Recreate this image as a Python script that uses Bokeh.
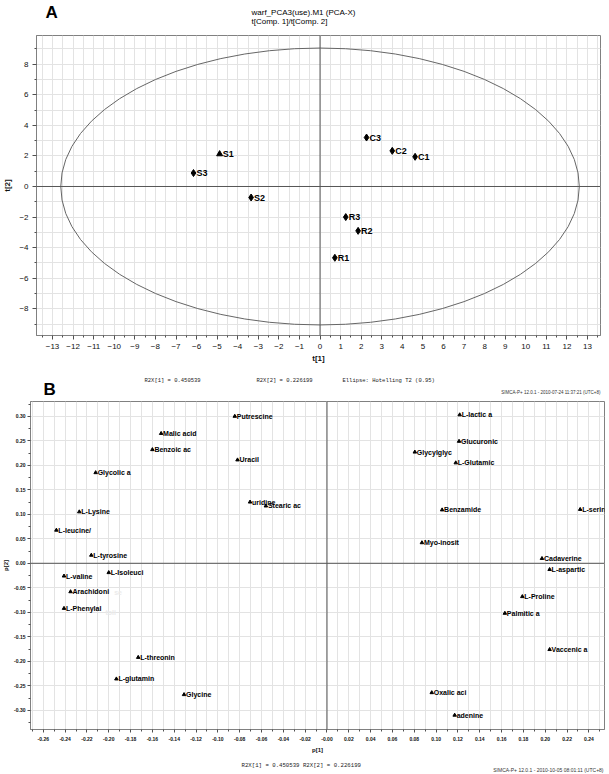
from bokeh.plotting import figure
from bokeh.models import Range1d, FixedTicker, Span, CustomJSTickFormatter
from bokeh.layouts import column, row
from bokeh.embed import file_html
from bokeh.resources import INLINE
from bokeh.core.properties import value

# ---------------- data: panel A (scores) ----------------
sample_names = ["S1", "S2", "S3", "C1", "C2", "C3", "R1", "R2", "R3"]
t1_scores = [-4.88, -3.35, -6.15, 4.62, 3.51, 2.26, 0.72, 1.85, 1.25]
t2_scores = [2.12, -0.72, 0.88, 1.94, 2.33, 3.20, -4.66, -2.90, -2.00]
ellipse_a = 12.6   # Hotelling T2 (0.95) semi-axis on t[1]
ellipse_b = 9.05   # semi-axis on t[2]
a_x_ticks = list(range(-13, 14))
a_y_ticks = list(range(-8, 9, 2))

# ---------------- data: panel B (loadings) ----------------
metabolites = ["Putrescine", "L-lactic a", "Malic acid", "Benzoic ac", "Uracil",
               "Glycolic a", "Glucuronic", "Glycylglyc", "L-Glutamic", "uridine",
               "Stearic ac", "L-Lysine", "Benzamide", "L-serine", "L-leucine/",
               "Myo-inosit", "L-tyrosine", "Cadaverine", "L-Isoleuci", "L-valine",
               "L-aspartic", "Arachidoni", "L-Proline", "L-Phenylal", "Palmitic a",
               "Vaccenic a", "L-threonin", "L-glutamin", "Glycine", "Oxalic aci", "adenine"]
p1_load = [-0.0845, 0.1216, -0.152, -0.160, -0.082,
           -0.212, 0.121, 0.0805, 0.118, -0.0705,
           -0.056, -0.227, 0.1055, 0.232, -0.248,
           0.087, -0.216, 0.197, -0.200, -0.241,
           0.204, -0.235, 0.179, -0.241, 0.163,
           0.204, -0.173, -0.193, -0.131, 0.096, 0.117]
p2_load = [0.300, 0.303, 0.265, 0.232, 0.211,
           0.185, 0.249, 0.227, 0.205, 0.125,
           0.117, 0.105, 0.109, 0.110, 0.0676,
           0.042, 0.0165, 0.0098, -0.019, -0.026,
           -0.0127, -0.058, -0.068, -0.092, -0.102,
           -0.176, -0.192, -0.236, -0.268, -0.264, -0.310]
# faint (overlapped) labels
faint_labels = ["se", "toli"]
faint_p1 = [-0.195, -0.203]
faint_p2 = [-0.060, -0.100]
b_x_ticks = [round(-0.26 + 0.02 * i, 2) for i in range(26)]
b_y_ticks = [round(-0.30 + 0.05 * i, 2) for i in range(13)]

FONT = "Liberation Sans"
MONO = "Liberation Mono"
W = 609


def strip(h):
    s = figure(width=W, height=h, output_backend="svg", toolbar_location=None,
               x_range=Range1d(0, W), y_range=Range1d(h, 0),
               x_axis_type=None, y_axis_type=None,
               min_border=0, min_border_left=0, min_border_right=0,
               min_border_top=0, min_border_bottom=0)
    s.outline_line_color = None
    s.background_fill_color = "white"
    s.border_fill_color = "white"
    return s


def put(s, x, y, text, size, font=FONT, style="normal", align="left",
        baseline="middle", color="black"):
    s.text(x=[x], y=[y], text=[text], text_font=value(font), text_font_size=size,
           text_font_style=style, text_align=align, text_baseline=baseline,
           text_color=color)


def style_axes(p, tick_size, label_size, tick_style, tick_out):
    for ax in (p.xaxis, p.yaxis):
        ax.axis_line_color = "#808080"
        ax.major_tick_line_color = "#505050"
        ax.minor_tick_line_color = "#505050"
        ax.major_tick_in = 0
        ax.major_tick_out = tick_out
        ax.minor_tick_in = 0
        ax.minor_tick_out = 2
        ax.major_label_text_font = FONT
        ax.major_label_text_font_size = tick_size
        ax.major_label_text_font_style = tick_style
        ax.major_label_text_color = "#111111"
        ax.axis_label_text_font = FONT
        ax.axis_label_text_font_size = label_size
        ax.axis_label_text_font_style = "bold"
        ax.axis_label_text_color = "#111111"


# ======================= header (page y 0-35) =======================
hdr = strip(35)
put(hdr, 45, 2, "A", "17px", style="bold", baseline="top")
put(hdr, 251, 12, "warf_PCA3(use).M1 (PCA-X)", "8px")
put(hdr, 251, 21, "t[Comp. 1]/t[Comp. 2]", "8px")

# ======================= Panel A (page y 35-366) =======================
pA = figure(width=W, height=331, output_backend="svg", toolbar_location=None,
            x_range=Range1d(-13.78, 13.63), y_range=Range1d(-9.74, 9.87),
            min_border_left=36, min_border_right=9, min_border_top=0, min_border_bottom=31)
pA.outline_line_color = "#808080"
pA.background_fill_color = "white"
pA.border_fill_color = "white"

xt = FixedTicker(ticks=a_x_ticks, minor_ticks=[v + 0.5 for v in range(-14, 14)])
yt = FixedTicker(ticks=a_y_ticks, minor_ticks=[v for v in range(-9, 10) if v % 2])
pA.xaxis.ticker = xt
pA.yaxis.ticker = yt
pA.xgrid.ticker = xt
pA.ygrid.ticker = yt
for g in (pA.xgrid, pA.ygrid):
    g.grid_line_color = "#e3e3e3"
    g.minor_grid_line_color = "#e3e3e3"
style_axes(pA, "8px", "8px", "normal", 4)
pA.xaxis.axis_label = "t[1]"
pA.yaxis.axis_label = "t[2]"
pA.xaxis.major_label_standoff = 4
pA.xaxis.axis_label_standoff = 2
pA.yaxis.major_label_standoff = 4
pA.yaxis.axis_label_standoff = 4

pA.add_layout(Span(location=0, dimension="height", line_color="#555555", line_width=1))
pA.add_layout(Span(location=0, dimension="width", line_color="#555555", line_width=1))
pA.ellipse(x=0, y=0, width=2 * ellipse_a, height=2 * ellipse_b,
           fill_color=None, line_color="#666666", line_width=1)

tri_idx = [0]
dia_idx = [i for i in range(len(sample_names)) if i not in tri_idx]
pA.scatter([t1_scores[i] for i in dia_idx], [t2_scores[i] for i in dia_idx],
           marker="diamond", size=7, color="black")
pA.scatter([t1_scores[i] for i in tri_idx], [t2_scores[i] for i in tri_idx],
           marker="triangle", size=6, color="black")
pA.text(x=t1_scores, y=t2_scores, text=sample_names, x_offset=3,
        text_font=value(FONT), text_font_size="9px", text_font_style="bold",
        text_baseline="middle", text_align="left", text_color="black")

# ======================= middle strip (page y 366-401) =======================
mid = strip(35)
put(mid, 144, 14, "R2X[1] = 0.450539", "5.5px", font=MONO, color="#222222")
put(mid, 256, 14, "R2X[2] = 0.226199", "5.5px", font=MONO, color="#222222")
put(mid, 342, 14, "Ellipse: Hotelling T2 (0.95)", "5.5px", font=MONO, color="#222222")
put(mid, 43, 13, "B", "17px", style="bold", baseline="top")
put(mid, 600, 26, "SIMCA-P+ 12.0.1 - 2010-07-24 11:37:21 (UTC+8)", "4.5px",
    align="right", color="#333333")

# ======================= Panel B (page y 401-755) =======================
pB = figure(width=W, height=354, output_backend="svg", toolbar_location=None,
            x_range=Range1d(-0.2717, 0.2543), y_range=Range1d(-0.3392, 0.3302),
            min_border_left=28, min_border_right=5, min_border_top=0, min_border_bottom=26)
pB.outline_line_color = "#808080"
pB.background_fill_color = "white"
pB.border_fill_color = "white"

bxt = FixedTicker(ticks=b_x_ticks, minor_ticks=[round(-0.27 + 0.02 * i, 2) for i in range(27)])
byt = FixedTicker(ticks=b_y_ticks, minor_ticks=[round(-0.325 + 0.05 * i, 3) for i in range(14)])
pB.xaxis.ticker = bxt
pB.yaxis.ticker = byt
pB.xgrid.ticker = bxt
pB.ygrid.ticker = byt
pB.xgrid.grid_line_color = "#e3e3e3"
pB.xgrid.minor_grid_line_color = "#e3e3e3"
pB.ygrid.grid_line_color = "#e3e3e3"
pB.xaxis.formatter = CustomJSTickFormatter(
    code="return Math.abs(tick) < 1e-9 ? '-0.00' : tick.toFixed(2);")
pB.yaxis.formatter = CustomJSTickFormatter(
    code="return Math.abs(tick) < 1e-9 ? '0.00' : tick.toFixed(2);")
style_axes(pB, "5px", "6px", "bold", 3)
pB.xaxis.axis_label = "p[1]"
pB.yaxis.axis_label = "p[2]"
pB.xaxis.major_label_standoff = 4
pB.xaxis.axis_label_standoff = 3
pB.yaxis.major_label_standoff = 2
pB.yaxis.axis_label_standoff = 2

pB.add_layout(Span(location=0, dimension="height", line_color="#555555", line_width=1))
pB.add_layout(Span(location=0, dimension="width", line_color="#555555", line_width=1))

pB.scatter(p1_load, p2_load, marker="triangle", size=3.5, color="black")
pB.text(x=p1_load, y=p2_load, text=metabolites, x_offset=2,
        text_font=value(FONT), text_font_size="7px", text_font_style="bold",
        text_baseline="middle", text_align="left", text_color="black")
pB.text(x=faint_p1, y=faint_p2, text=faint_labels,
        text_font=value(FONT), text_font_size="7px", text_font_style="bold",
        text_baseline="middle", text_align="left", text_color="#ebebeb")

# ======================= footer (page y 755-774) =======================
ftr = strip(19)
put(ftr, 241, 10, "R2X[1] = 0.450539 R2X[2] = 0.226199", "5.7px", font=MONO, color="#222222")
put(ftr, 603, 14, "SIMCA-P+ 12.0.1 - 2010-10-05 08:01:11 (UTC+8)", "5px",
    align="right", color="#333333")

# each figure wrapped in its own row so that the frames are not aligned to each other
layout = column(row(hdr), row(pA), row(mid), row(pB), row(ftr), spacing=0)
open("out.html", "w").write(file_html(layout, INLINE))
